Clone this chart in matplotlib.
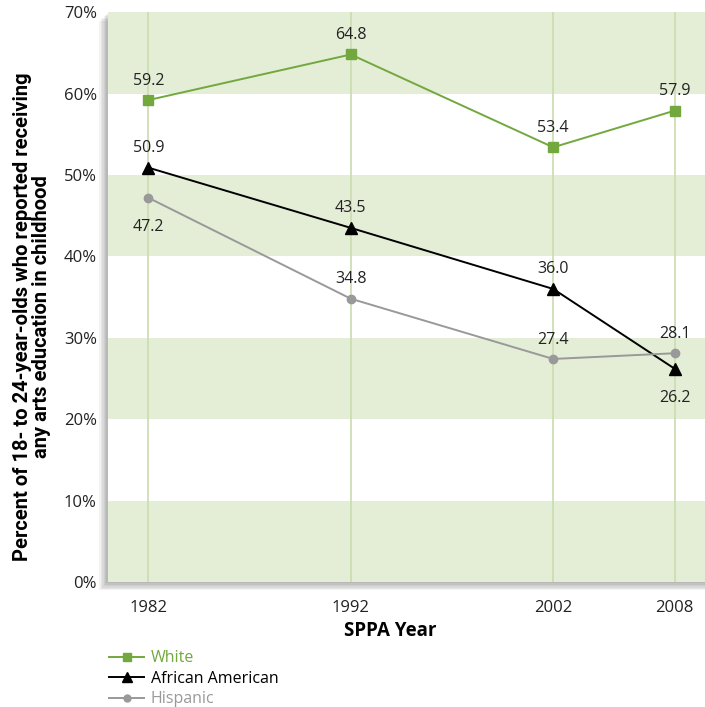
import matplotlib
matplotlib.use("Agg")
import matplotlib.pyplot as plt
from matplotlib.lines import Line2D
import matplotlib.patches as mpatches

years = [1982, 1992, 2002, 2008]
white = [59.2, 64.8, 53.4, 57.9]
african_american = [50.9, 43.5, 36.0, 26.2]
hispanic = [47.2, 34.8, 27.4, 28.1]
yticks = [0, 10, 20, 30, 40, 50, 60, 70]
ytick_labels = ["0%", "10%", "20%", "30%", "40%", "50%", "60%", "70%"]

GREEN = "#72a83e"
BAND = "#e4edd6"
GRID = "#cadcaf"
GRAY = "#999999"
FONT = "Open Sans"

L, B, W, H = 0.153, 0.1768, 0.847, 0.806
fig = plt.figure(figsize=(7.05, 7.07), dpi=100)
ax = fig.add_axes([L, B, W, H])
ax.set_xlim(1980, 2009.5)
ax.set_ylim(0, 70)

# background bands
for lo in [0, 20, 40, 60]:
    ax.axhspan(lo, lo + 10, color=BAND, zorder=0, lw=0)
for yr in years:
    ax.axvline(yr, color=GRID, lw=1.2, zorder=1)

ax.plot(years, white, color=GREEN, marker="s", ms=7, lw=1.4, zorder=3)
ax.plot(years, african_american, color="black", marker="^", ms=8, lw=1.4, zorder=3)
ax.plot(years, hispanic, color=GRAY, marker="o", ms=6, lw=1.4, zorder=3)

def lab(x, y, above=True):
    off = 14 if above else -21
    ax.annotate(f"{y:.1f}", (x, y), xytext=(0, off), textcoords="offset points",
                ha="center", va="center", fontsize=11.5, family=FONT, color="#222222")

for x, y in zip(years, white):
    lab(x, y, True)
for x, y, a in zip(years, african_american, [True, True, True, False]):
    lab(x, y, a)
for x, y, a in zip(years, hispanic, [False, True, True, True]):
    lab(x, y, a)

for s in ax.spines.values():
    s.set_visible(False)
ax.set_yticks(yticks)
ax.set_yticklabels(ytick_labels, family=FONT, fontsize=12, color="#222222")
ax.set_xticks(years)
ax.set_xticklabels([str(y) for y in years], family=FONT, fontsize=12, color="#222222")
ax.tick_params(length=0, pad=8)
ax.tick_params(axis="x", pad=13)

# shadow on left and bottom of plotting area
for i in range(6):
    fig.patches.append(mpatches.Rectangle((L - 0.002 * (i + 1), B - 0.002 * (i + 1)),
                                          0.002 * (i + 1) + W, H,
                                          transform=fig.transFigure, color="black",
                                          alpha=0.05, zorder=-1, lw=0))

fig.text(0.553, 0.108, "SPPA Year", ha="center", va="center", fontsize=13.5,
         fontweight="bold", family=FONT)
fig.text(0.045, 0.552, "Percent of 18- to 24-year-olds who reported receiving\nany arts education in childhood",
         rotation=90, ha="center", va="center", fontsize=14.5, fontweight="bold",
         family="Roboto", linespacing=1.0)

handles = [
    Line2D([], [], color=GREEN, marker="s", ms=6, lw=1.4),
    Line2D([], [], color="black", marker="^", ms=7, lw=1.4),
    Line2D([], [], color=GRAY, marker="o", ms=5, lw=1.4),
]
leg = fig.legend(handles, ["White", "African American", "Hispanic"],
                 loc="upper left", bbox_to_anchor=(0.155, 0.080), frameon=False,
                 prop={"family": FONT, "size": 11.5}, handlelength=2.2,
                 handletextpad=0.4, labelspacing=0.28, borderaxespad=0, borderpad=0)
for t, c in zip(leg.get_texts(), [GREEN, "black", GRAY]):
    t.set_color(c)

fig.savefig("out.png", dpi=100)
